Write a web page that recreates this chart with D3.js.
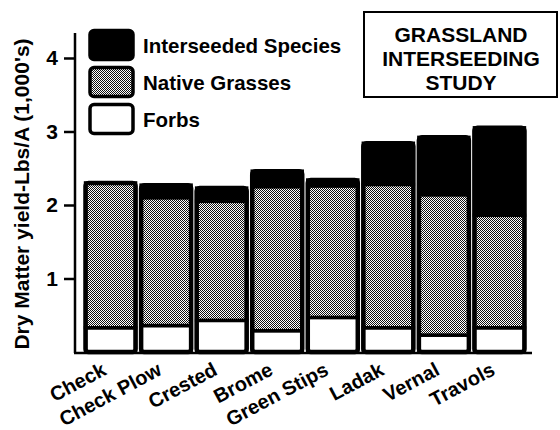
<!DOCTYPE html>
<html><head><meta charset="utf-8">
<script src="https://cdn.jsdelivr.net/npm/d3@7"></script>
<style>
html,body{margin:0;padding:0;background:#fff;}
text{font-family:"Liberation Sans",Arial,Helvetica,sans-serif;font-weight:bold;fill:#000;}
</style></head>
<body>
<svg id="chart" width="560" height="430"></svg>
<script>
const categories = ["Check","Check Plow","Crested","Brome","Green Stips","Ladak","Vernal","Travols"];
const forbs       = [0.33, 0.36, 0.43, 0.29, 0.47, 0.33, 0.23, 0.33];
const native      = [1.97, 1.74, 1.62, 1.96, 1.79, 1.95, 1.91, 1.53];
const interseeded = [0.00, 0.17, 0.18, 0.21, 0.08, 0.56, 0.78, 1.19];
const seriesNames = ["Forbs","Native Grasses","Interseeded Species"];
const yTicks = [1,2,3,4];
const titleLines = ["GRASSLAND","INTERSEEDING","STUDY"];
const yLabel = "Dry Matter yield-Lbs/A (1,000's)";

const svg = d3.select("#chart");
const defs = svg.append("defs");
const pat = defs.append("pattern").attr("id","stipple").attr("patternUnits","userSpaceOnUse")
  .attr("width",2).attr("height",2);
pat.append("rect").attr("width",2).attr("height",2).attr("fill","#fff");
pat.append("rect").attr("x",0).attr("y",0).attr("width",1).attr("height",1).attr("fill","#111");
pat.append("rect").attr("x",1).attr("y",1).attr("width",1).attr("height",1).attr("fill","#111");

const fills = {"Forbs":"#fff","Native Grasses":"url(#stipple)","Interseeded Species":"#000"};

const x = d3.scaleBand().domain(categories).range([80,530]).paddingInner(0.1).paddingOuter(0.1);
const y = d3.scaleLinear().domain([0,4.34]).range([352,33]);

const table = categories.map((c,i)=>({cat:c,"Forbs":forbs[i],"Native Grasses":native[i],"Interseeded Species":interseeded[i]}));
const stack = d3.stack().keys(seriesNames)(table);

const g = svg.append("g");
stack.forEach(layer=>{
  g.selectAll(null).data(layer).enter().append("rect")
    .attr("x",d=>x(d.data.cat))
    .attr("width",x.bandwidth())
    .attr("y",d=>y(d[1]))
    .attr("height",d=>Math.max(0,y(d[0])-y(d[1])))
    .attr("fill",fills[layer.key])
    .attr("stroke","#000").attr("stroke-width",3.5);
});
// outer outline
g.selectAll(null).data(table).enter().append("rect")
  .attr("x",d=>x(d.cat))
  .attr("width",x.bandwidth())
  .attr("y",d=>y(d["Forbs"]+d["Native Grasses"]+d["Interseeded Species"]))
  .attr("height",d=>y(0)-y(d["Forbs"]+d["Native Grasses"]+d["Interseeded Species"]))
  .attr("rx",3).attr("fill","none").attr("stroke","#000").attr("stroke-width",4.5);

// y axis
const yAxis = svg.append("g").attr("transform","translate(75,0)")
  .call(d3.axisLeft(y).tickValues(yTicks).tickSize(11).tickPadding(6).tickFormat(d3.format("d")));
yAxis.select(".domain").remove();
yAxis.selectAll(".tick line").attr("stroke","#000").attr("stroke-width",2.5);
yAxis.selectAll(".tick text").style("font-size","21px").style("font-weight","bold")
  .attr("font-family","Liberation Sans, Arial, sans-serif");
svg.append("line").attr("x1",75).attr("x2",75).attr("y1",y(4.34)).attr("y2",y(0)+1)
  .attr("stroke","#000").attr("stroke-width",2.5);
svg.append("line").attr("x1",74).attr("x2",532).attr("y1",y(0)+1).attr("y2",y(0)+1)
  .attr("stroke","#000").attr("stroke-width",2.5);

// x labels
svg.selectAll(null).data(categories).enter().append("text")
  .attr("transform",d=>`translate(${x(d)+x.bandwidth()/2-3},374) rotate(-28)`)
  .attr("text-anchor","end").style("font-size","20px").text(d=>d);

// y label
svg.append("text").attr("transform","translate(29,194) rotate(-90)")
  .attr("text-anchor","middle").style("font-size","21px").text(yLabel);

// legend
const legendOrder = ["Interseeded Species","Native Grasses","Forbs"];
const leg = svg.append("g");
legendOrder.forEach((k,i)=>{
  const ly = [29,66,103][i];
  leg.append("rect").attr("x",90).attr("y",ly+1.5).attr("width",43).attr("height",29)
    .attr("rx",4).attr("fill",fills[k]).attr("stroke","#000").attr("stroke-width",3.5);
  leg.append("text").attr("x",143).attr("y",ly+24).style("font-size","20.5px").text(k);
});

// title box
svg.append("rect").attr("x",364).attr("y",12).attr("width",193).attr("height",85)
  .attr("fill","#fff").attr("stroke","#000").attr("stroke-width",2);
svg.selectAll(null).data(titleLines).enter().append("text")
  .attr("x",461).attr("y",(d,i)=>42+i*24).attr("text-anchor","middle")
  .style("font-size","21px").text(d=>d);
</script>
</body></html>
